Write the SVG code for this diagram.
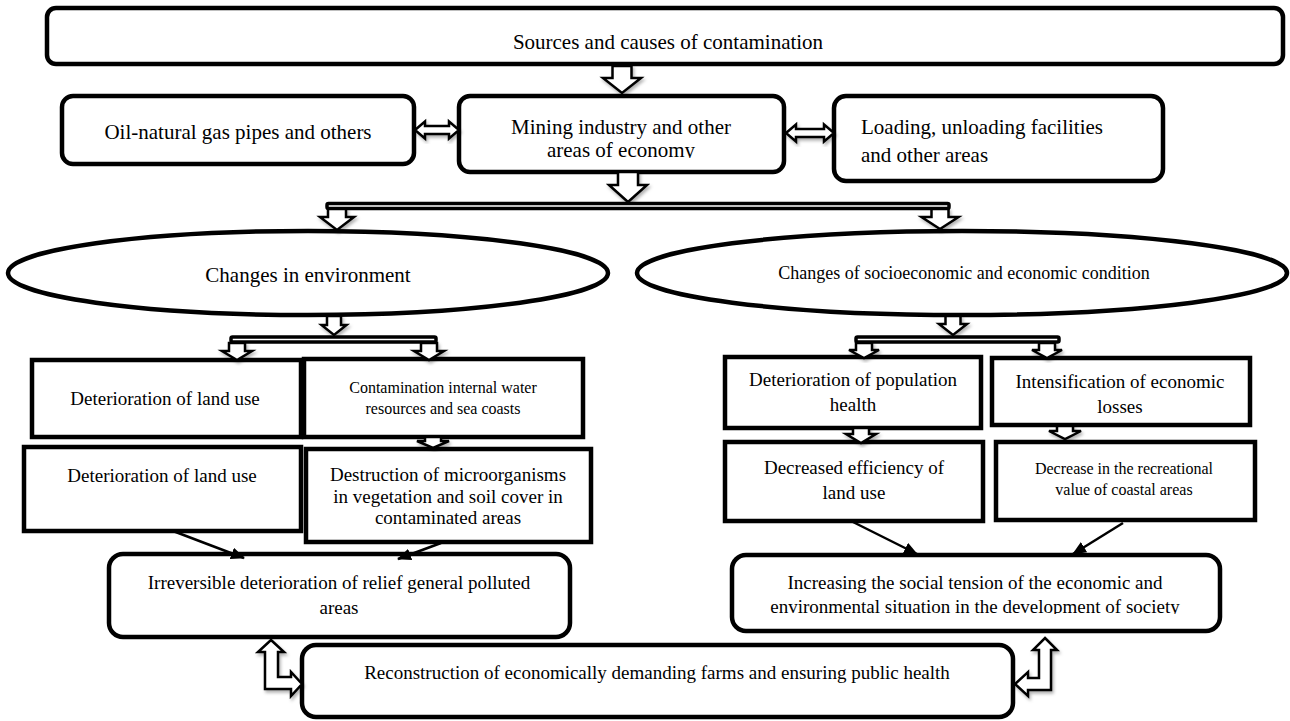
<svg xmlns="http://www.w3.org/2000/svg" width="1290" height="721" viewBox="0 0 1290 721">
<style>
.box{fill:#fff;stroke:#000;stroke-width:4.5}
.t{font-family:"Liberation Serif","Times New Roman",serif;fill:#000;text-anchor:middle}
.f21{font-size:21px}.f19{font-size:19px}.f18{font-size:18px}.f16{font-size:16px}
.ba{fill:#fff;stroke:#000;stroke-width:2.5;stroke-linejoin:miter;filter:url(#sh)}
.bar{fill:#fff;stroke:#000;stroke-width:3.5}
.ln{fill:none;stroke:#000;stroke-width:2.5;marker-end:url(#ah)}
</style>
<defs>
<filter id="sh" x="-30%" y="-30%" width="160%" height="160%"><feDropShadow dx="1.5" dy="2.5" stdDeviation="1.8" flood-color="#000" flood-opacity="0.3"/></filter>
<marker id="ah" markerUnits="userSpaceOnUse" markerWidth="14" markerHeight="12" refX="13" refY="6" orient="auto"><path d="M0,0 L14,6 L0,12 Z" fill="#000"/></marker>
<clipPath id="cm"><rect x="459" y="96" width="325" height="62"/></clipPath>
<clipPath id="ck"><rect x="732" y="555" width="488" height="59"/></clipPath>
</defs>
<rect width="1290" height="721" fill="#fff"/>

<g id="n-sources"><rect class="box" x="47" y="8" width="1236" height="56" rx="9"/><text class="t f21" x="668" y="49">Sources and causes of contamination</text></g>
<g id="n-oil"><rect class="box" x="62" y="96" width="352" height="68" rx="11"/><text class="t f21" x="238" y="139">Oil-natural gas pipes and others</text></g>
<g id="n-mining"><rect class="box" x="459" y="96" width="325" height="76" rx="11"/><g clip-path="url(#cm)"><text class="t f21" x="621" y="134">Mining industry and other</text><text class="t f21" x="621" y="157">areas of economy</text></g></g>
<g id="n-loading"><rect class="box" x="834" y="96" width="329" height="85" rx="12"/><text class="t f21" x="861" y="134" style="text-anchor:start">Loading, unloading facilities</text><text class="t f21" x="861" y="162" style="text-anchor:start">and other areas</text></g>
<g id="n-env"><ellipse class="box" cx="308" cy="273" rx="300" ry="42"/><text class="t f21" x="308" y="282">Changes in environment</text></g>
<g id="n-socio"><ellipse class="box" cx="962" cy="273" rx="325" ry="42"/><text class="t f18" x="964" y="279">Changes of socioeconomic and economic condition</text></g>
<g id="n-land1"><rect class="box" x="32" y="360" width="269" height="77"/><text class="t f19" x="165" y="405">Deterioration of land use</text></g>
<g id="n-water"><rect class="box" x="304" y="359" width="279" height="78"/><text class="t f16" x="443" y="393">Contamination internal water</text><text class="t f16" x="443" y="414">resources and sea coasts</text></g>
<g id="n-land2"><rect class="box" x="24" y="447" width="277" height="84"/><text class="t f19" x="162" y="482">Deterioration of land use</text></g>
<g id="n-micro"><rect class="box" x="306" y="449" width="285" height="93"/><text class="t f19" x="448" y="481">Destruction of microorganisms</text><text class="t f19" x="448" y="503">in vegetation and soil cover in</text><text class="t f19" x="448" y="524">contaminated areas</text></g>
<g id="n-irrev"><rect class="box" x="109" y="554" width="461" height="83" rx="14"/><text class="t f19" x="339" y="589">Irreversible deterioration of relief general polluted</text><text class="t f19" x="339" y="614">areas</text></g>
<g id="n-health"><rect class="box" x="725" y="357" width="256" height="71"/><text class="t f19" x="853" y="386">Deterioration of population</text><text class="t f19" x="853" y="411">health</text></g>
<g id="n-losses"><rect class="box" x="992" y="358" width="258" height="67"/><text class="t f19" x="1120" y="388">Intensification of economic</text><text class="t f19" x="1120" y="413">losses</text></g>
<g id="n-eff"><rect class="box" x="725" y="442" width="258" height="79"/><text class="t f19" x="854" y="474">Decreased efficiency of</text><text class="t f19" x="854" y="499">land use</text></g>
<g id="n-recr"><rect class="box" x="996" y="442" width="259" height="78"/><text class="t f16" x="1124" y="474">Decrease in the recreational</text><text class="t f16" x="1124" y="495">value of coastal areas</text></g>
<g id="n-tension"><rect class="box" x="732" y="555" width="488" height="76" rx="14"/><g clip-path="url(#ck)"><text class="t f19" x="975" y="589">Increasing the social tension of the economic and</text><text class="t f19" x="975" y="613">environmental situation in the development of society</text></g></g>
<g id="n-recon"><rect class="box" x="302" y="645" width="711" height="72" rx="14"/><text class="t f19" x="657" y="679">Reconstruction of economically demanding farms and ensuring public health</text></g>

<g id="connectors">
<path class="ba" d="M612.5,66 L631.5,66 L631.5,78 L641,78 L622,93 L603,78 L612.5,78 Z"/>
<path class="ba" d="M415,130 L425,121.5 L425,126 L449,126 L449,121.5 L459,130 L449,138.5 L449,134 L425,134 L425,138.5 Z"/>
<path class="ba" d="M786,133 L796,124.5 L796,129 L824,129 L824,124.5 L834,133 L824,141.5 L824,137 L796,137 L796,141.5 Z"/>
<path class="ba" d="M618,172 L638,172 L638,185 L647,185 L628,202 L609,185 L618,185 Z"/>
<rect class="bar" x="327" y="203.5" width="622" height="5" rx="1.5"/>
<path class="ba" d="M328,209 L346,209 L346,217 L354,217 L337,230 L320,217 L328,217 Z"/>
<path class="ba" d="M931.5,209 L948.5,209 L948.5,217 L958.5,217 L940,229 L921.5,217 L931.5,217 Z"/>
<path class="ba" d="M327,316 L341,316 L341,325 L346.5,325 L334,335 L321.5,325 L327,325 Z"/>
<rect class="bar" x="231" y="337" width="205" height="5" rx="1.5"/>
<path class="ba" d="M229,343 L245,343 L245,351 L252,351 L237,360 L222,351 L229,351 Z"/>
<path class="ba" d="M421,343 L437,343 L437,351 L444,351 L429,360 L414,351 L421,351 Z"/>
<path class="ba" d="M945.5,316 L960.5,316 L960.5,324 L967,324 L953,335 L939,324 L945.5,324 Z"/>
<rect class="bar" x="856" y="337" width="203" height="5" rx="1.5"/>
<path class="ba" d="M856,343 L872,343 L872,350 L879,350 L864,358 L849,350 L856,350 Z"/>
<path class="ba" d="M1039,343 L1055,343 L1055,350 L1062,350 L1047,358 L1032,350 L1039,350 Z"/>
<path class="ba" d="M425,437 L441,437 L441,441 L449,441 L433,448 L417,441 L425,441 Z"/>
<path class="ba" d="M853,428 L869,428 L869,434 L876,434 L861,443 L846,434 L853,434 Z"/>
<path class="ba" d="M1057,426 L1073,426 L1073,431 L1081,431 L1065,439 L1049,431 L1057,431 Z"/>
<line class="ln" x1="173" y1="531" x2="244" y2="558"/>
<line class="ln" x1="441" y1="543" x2="398" y2="559"/>
<line class="ln" x1="853" y1="522" x2="917" y2="554"/>
<line class="ln" x1="1123" y1="523" x2="1073" y2="554"/>
<path class="ba" d="M271,640 L284,652 L278,652 L278,677 L291,677 L291,672 L302,684 L291,696 L291,689 L265,689 L265,652 L258,652 Z"/>
<path class="ba" d="M1045,638 L1057,650 L1051,650 L1051,690 L1028,690 L1028,696 L1015,684 L1028,672 L1028,678 L1039,678 L1039,650 L1033,650 Z"/>
</g>
</svg>
